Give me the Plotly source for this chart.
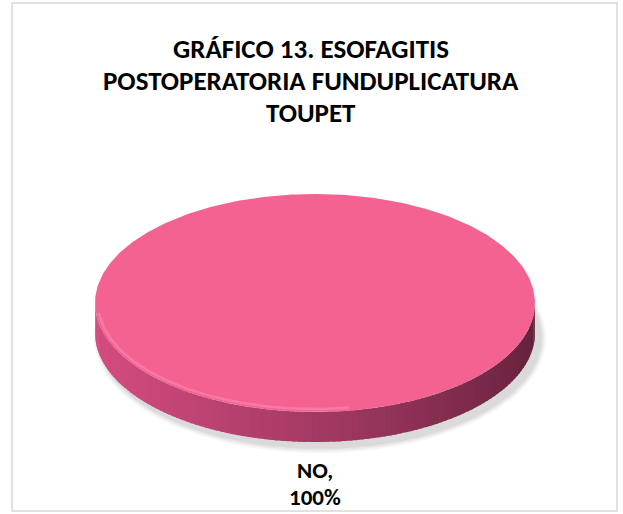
import numpy as np
import plotly.graph_objects as go

# ---- data ----
labels = ["NO"]
values = [100]
title_lines = ["GRÁFICO 13. ESOFAGITIS", "POSTOPERATORIA FUNDUPLICATURA", "TOUPET"]

# ---- geometry / style ----
W, H = 623, 514
CX, CY, A, B, D = 315, 303, 220, 109, 30
TOP_COLORS = ["#F46292"]
SIDE_LEFT = np.array([212, 76, 128])
SIDE_RIGHT = np.array([100, 34, 60])
FONT = "Carlito, Open Sans, sans-serif"

total = float(sum(values))
fig = go.Figure()

# soft shadow
for k, alpha in enumerate([0.04, 0.05, 0.06]):
    t = np.linspace(0, 2 * np.pi, 240)
    grow = 6 - 2 * k
    fig.add_trace(go.Scatter(
        x=CX + 5 + (A + grow) * np.cos(t), y=CY + D + 5 + (B + grow) * np.sin(t),
        fill="toself", fillcolor=f"rgba(0,0,0,{alpha})", line=dict(width=0),
        mode="lines", hoverinfo="skip", showlegend=False))

start = -np.pi / 2
cum = 0.0
for i, v in enumerate(values):
    t0 = start + 2 * np.pi * cum / total
    t1 = start + 2 * np.pi * (cum + v) / total
    cum += v
    # side wall (front half, angles where sin>0 -> lower on screen)
    ts = np.linspace(t0, t1, 400)
    front = ts[np.sin(ts) >= 0]
    if len(front) > 1:
        edges = np.linspace(front.min(), front.max(), 120)
        for j in range(len(edges) - 1):
            a0, a1 = edges[j], edges[j + 1] + 0.012
            xa, xb = CX + A * np.cos(a0), CX + A * np.cos(a1)
            ya, yb = CY + B * np.sin(a0), CY + B * np.sin(a1)
            xm = (xa + xb) / 2
            f = np.clip((CX + A - xm) / (2 * A), 0, 1)  # 1 at left, 0 at right
            f = f ** 0.8
            col = SIDE_RIGHT + (SIDE_LEFT - SIDE_RIGHT) * f
            c = f"rgb({int(col[0])},{int(col[1])},{int(col[2])})"
            fig.add_trace(go.Scatter(
                x=[xa, xb, xb, xa, xa], y=[ya, yb, yb + D, ya + D, ya],
                fill="toself", fillcolor=c, line=dict(width=0),
                mode="lines", hoverinfo="skip", showlegend=False))
    # top face
    ta = np.linspace(t0, t1, 360)
    xs = CX + A * np.cos(ta)
    ys = CY + B * np.sin(ta)
    if v < total:
        xs = np.concatenate([[CX], xs, [CX]])
        ys = np.concatenate([[CY], ys, [CY]])
    fig.add_trace(go.Scatter(
        x=xs, y=ys, fill="toself", fillcolor=TOP_COLORS[i % len(TOP_COLORS)],
        line=dict(width=0), mode="lines", hoverinfo="text",
        text=f"{labels[i]}: {v / total * 100:.0f}%", showlegend=False))
    # rim highlight
    th = np.linspace(0.45 * np.pi, 0.97 * np.pi, 100)
    fig.add_trace(go.Scatter(
        x=CX + (A - 3) * np.cos(th), y=CY + (B - 3) * np.sin(th),
        mode="lines", line=dict(width=2.5, color="rgba(255,150,190,0.45)"),
        hoverinfo="skip", showlegend=False))

# data label (two lines)
label_lines = [f"{labels[0]},", f"{values[0] / total * 100:.0f}%"]
annotations = []
for k, line in enumerate(label_lines):
    annotations.append(dict(x=CX, y=470 + 27 * k, xref="x", yref="y", text=f"<b>{line}</b>",
                            showarrow=False, height=24, valign="middle",
                            font=dict(family=FONT, size=23, color="#000000")))
for k, line in enumerate(title_lines):
    annotations.append(dict(x=311, y=48 + 32 * k, xref="x", yref="y", text=f"<b>{line}</b>",
                            showarrow=False, height=28, valign="middle",
                            font=dict(family=FONT, size=27, color="#000000")))

fig.update_layout(
    width=W, height=H, margin=dict(l=0, r=0, t=0, b=0),
    paper_bgcolor="white", plot_bgcolor="white",
    xaxis=dict(range=[0, W], visible=False, fixedrange=True),
    yaxis=dict(range=[H, 0], visible=False, fixedrange=True),
    annotations=annotations,
    shapes=[dict(type="rect", xref="x", yref="y", x0=12, x1=617, y0=3, y1=511,
                 line=dict(color="#D9D9D9", width=1.5), fillcolor="rgba(0,0,0,0)")],
    showlegend=False,
)
fig.write_html("out.html")
